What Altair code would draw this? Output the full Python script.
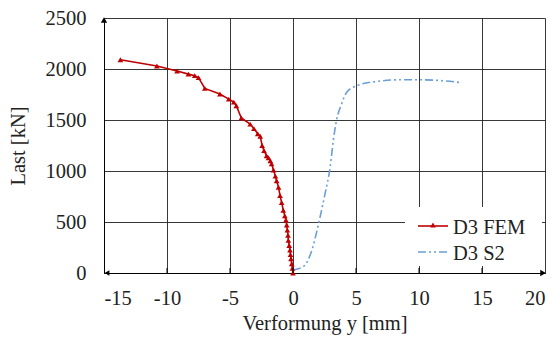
import altair as alt
import pandas as pd

# FEM series (red, triangles)
fem_x = [-13.7, -10.8, -9.2, -8.3, -7.8, -7.5, -7.0, -5.8, -5.1, -4.7, -4.5, -4.1,
         -3.4, -3.1, -2.8, -2.6, -2.45, -2.3, -2.1, -1.95, -1.8, -1.7, -1.55, -1.4,
         -1.3, -1.15, -1.03, -0.9, -0.77, -0.65, -0.56, -0.5, -0.45, -0.4, -0.37,
         -0.3, -0.24, -0.2, -0.16, -0.1, -0.05, 0.0]
fem_y = [2090, 2030, 1980, 1950, 1935, 1915, 1810, 1755, 1705, 1675, 1640, 1520,
         1460, 1415, 1365, 1340, 1250, 1200, 1150, 1130, 1100, 1070, 1010, 950,
         905, 840, 760, 690, 615, 560, 520, 470, 420, 370, 320,
         270, 225, 180, 140, 90, 45, 0]

# S2 series (blue, dash-dot-dot)
s2_x = [0.0, 0.8, 1.5, 2.15, 2.55, 2.95, 3.2, 3.45, 3.85, 4.25, 5.05, 6.65, 8.5,
        10.3, 11.9, 13.25]
s2_y = [30, 60, 225, 550, 780, 1040, 1300, 1495, 1655, 1770, 1835, 1878, 1894,
        1894, 1885, 1868]

x_ticks = [-15, -10, -5, 0, 5, 10, 15, 20]
y_ticks = [0, 500, 1000, 1500, 2000, 2500]
legend_labels = ["D3 FEM", "D3 S2"]

W, H = 441, 255
FONT = "Liberation Serif"
FS = 20.5
RED = "#C00000"
BLUE = "#6A9FD8"
DASH = [8, 3, 2, 3, 2, 3]

fem = pd.DataFrame({"x": fem_x, "y": fem_y})
s2 = pd.DataFrame({"x": s2_x, "y": s2_y})

xs = alt.Scale(domain=[-15, 20], nice=False, zero=False)
ys = alt.Scale(domain=[0, 2500], nice=False)
xax = alt.Axis(values=x_ticks, title="Verformung y [mm]", labelExpr="'' + datum.value",
               labelPadding=15, titlePadding=5)
yax = alt.Axis(values=y_ticks, title="Last [kN]", labelExpr="'' + datum.value",
               labelPadding=18, titlePadding=17)

fem_line = alt.Chart(fem).mark_line(color=RED, strokeWidth=1.6).encode(
    x=alt.X("x:Q", scale=xs, axis=xax), y=alt.Y("y:Q", scale=ys, axis=yax))
fem_pts = alt.Chart(fem).mark_point(shape="triangle-up", filled=True, color=RED,
                                    size=32, opacity=1).encode(
    x=alt.X("x:Q", scale=xs, axis=xax), y=alt.Y("y:Q", scale=ys, axis=yax))
s2_line = alt.Chart(s2).mark_line(color=BLUE, strokeWidth=1.6, strokeDash=DASH,
                                  interpolate="monotone").encode(
    x=alt.X("x:Q", scale=xs, axis=xax), y=alt.Y("y:Q", scale=ys, axis=yax))

# axis arrows
arrow_up = alt.Chart(pd.DataFrame({"a": [0]})).mark_point(
    shape="triangle-up", filled=True, color="#000", size=40, opacity=1).encode(
    x=alt.value(0), y=alt.value(2))
arrow_right = alt.Chart(pd.DataFrame({"a": [0]})).mark_point(
    shape="triangle-right", filled=True, color="#000", size=40, opacity=1).encode(
    x=alt.value(W - 2), y=alt.value(H))
arrow_left = alt.Chart(pd.DataFrame({"a": [0]})).mark_point(
    shape="triangle-left", filled=True, color="#000", size=30, opacity=1).encode(
    x=alt.value(3), y=alt.value(H))

# small inside ticks on x axis
ticks = alt.Chart(pd.DataFrame({"x": x_ticks[1:-1]})).mark_rule(
    color="#000", strokeWidth=1).encode(
    x=alt.X("x:Q", scale=xs, axis=xax), y=alt.value(H - 5), y2=alt.value(H))

# manual legend
leg_box = alt.Chart(pd.DataFrame({"a": [0]})).mark_rect(color="white").encode(
    x=alt.value(301), x2=alt.value(438), y=alt.value(189), y2=alt.value(248))
leg_red = alt.Chart(pd.DataFrame({"a": [0]})).mark_rule(color=RED, strokeWidth=1.6).encode(
    x=alt.value(314), x2=alt.value(344), y=alt.value(208))
leg_tri = alt.Chart(pd.DataFrame({"a": [0]})).mark_point(
    shape="triangle-up", filled=True, color=RED, size=32, opacity=1).encode(
    x=alt.value(329), y=alt.value(207))
leg_blue = alt.Chart(pd.DataFrame({"a": [0]})).mark_rule(
    color=BLUE, strokeWidth=1.6, strokeDash=DASH).encode(
    x=alt.value(314), x2=alt.value(344), y=alt.value(234))
leg_text = alt.Chart(pd.DataFrame({"t": legend_labels, "yy": [209.5, 235.5]})).mark_text(
    align="left", baseline="middle", font=FONT, fontSize=20.5, color="#222").encode(
    x=alt.value(349), y=alt.Y("yy:Q", scale=None), text="t:N")

chart = alt.layer(
    fem_line, s2_line, fem_pts, ticks, arrow_up, arrow_right, arrow_left,
    leg_box, leg_red, leg_tri, leg_blue, leg_text
).properties(
    width=W, height=H,
    autosize=alt.AutoSizeParams(type="none"),
    padding={"left": 96, "top": 10, "right": 6, "bottom": 64},
    background="white",
).configure_view(stroke=None).configure_axis(
    grid=True, gridColor="#222", gridOpacity=0.9, domainColor="#000", tickSize=0,
    labelFont=FONT, labelFontSize=FS, labelColor="#222",
    titleFont=FONT, titleFontSize=FS, titleFontWeight="normal", titleColor="#222",
)

chart.save("out.html", embed_options={"renderer": "svg", "actions": False})
